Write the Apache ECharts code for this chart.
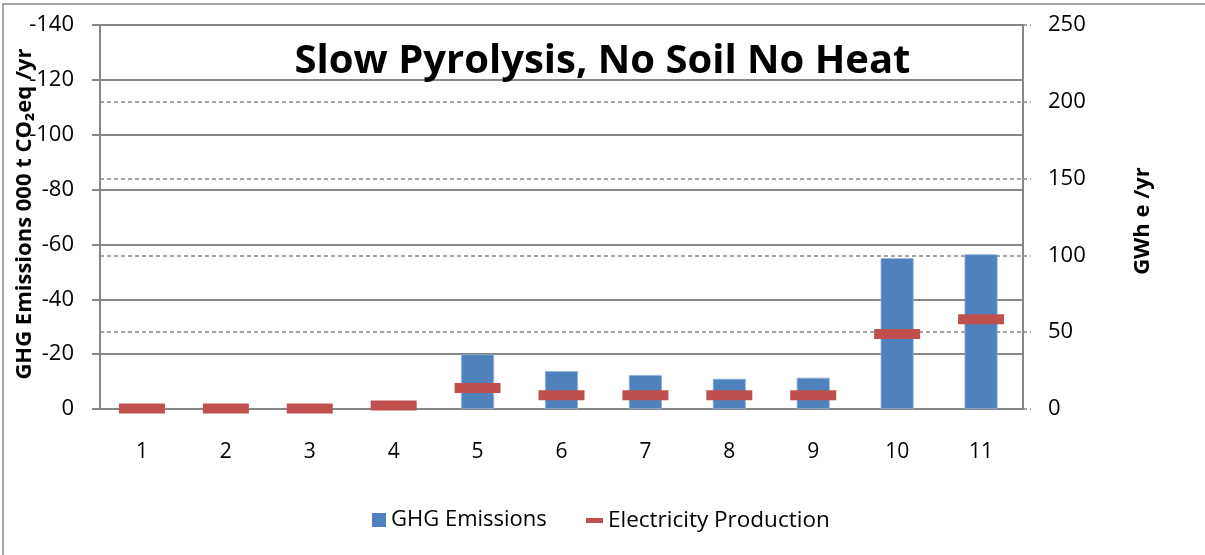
<!DOCTYPE html>
<html>
<head>
<meta charset="utf-8">
<title>Slow Pyrolysis, No Soil No Heat</title>
<script src="https://cdn.jsdelivr.net/npm/echarts@6/dist/echarts.min.js"></script>
<style>
  html, body { margin: 0; padding: 0; background: #ffffff; }
  #chart { width: 1205px; height: 555px; }
</style>
</head>
<body>
<div id="chart"></div>
<script>
// Scenario numbers along the category axis
const categories = ['1', '2', '3', '4', '5', '6', '7', '8', '9', '10', '11'];
// GHG emissions, 000 t CO2eq per year (negative = net removal)
const ghgEmissions = [0, 0, 0, 0, -19.9, -13.8, -12.4, -11.0, -11.4, -55.0, -56.4];
// Electricity production, GWh e per year
const electricityProduction = [0.4, 0.4, 0.4, 2.2, 13.6, 8.9, 8.9, 8.9, 8.9, 48.8, 58.5];
// Axis tick settings
const leftTicks = { min: -140, max: 0, interval: 20 };
const rightTicks = { min: 0, max: 250, interval: 50 };

const FONT = '"Open Sans", "DejaVu Sans", sans-serif';
const GRID_GRAY = '#878787';
const BLUE = '#4F81BD';
const RED = '#C0504D';

const chart = echarts.init(document.getElementById('chart'), null, { renderer: 'canvas' });

chart.setOption({
  backgroundColor: '#ffffff',
  animation: false,
  textStyle: { fontFamily: FONT, color: '#000' },
  title: {
    text: 'Slow Pyrolysis, No Soil No Heat',
    left: 'center',
    top: 37,
    textStyle: { fontFamily: FONT, fontSize: 40, fontWeight: 'bold', color: '#000' }
  },
  legend: [
    {
      data: ['GHG Emissions'],
      left: 367,
      top: 504,
      icon: 'rect',
      itemWidth: 14,
      itemHeight: 14,
      itemStyle: { borderWidth: 0 },
      textStyle: { fontFamily: FONT, fontSize: 22, color: '#000' }
    },
    {
      data: ['Electricity Production'],
      left: 581,
      top: 504,
      icon: 'rect',
      itemWidth: 17,
      itemHeight: 5,
      itemStyle: { borderWidth: 0 },
      textStyle: { fontFamily: FONT, fontSize: 22.5, color: '#000' }
    }
  ],
  grid: { left: 100, right: 182, top: 25, bottom: 146, containLabel: false },
  xAxis: {
    type: 'category',
    data: categories,
    boundaryGap: true,
    axisLine: { lineStyle: { color: GRID_GRAY, width: 2 } },
    axisTick: { inside: true, length: 7, alignWithLabel: false, lineStyle: { color: GRID_GRAY, width: 2 } },
    axisLabel: { fontFamily: FONT, fontSize: 21, color: '#000', margin: 33 },
    splitLine: { show: false }
  },
  yAxis: [
    {
      type: 'value',
      position: 'left',
      min: leftTicks.min,
      max: leftTicks.max,
      interval: leftTicks.interval,
      inverse: true,
      axisLine: { show: true, onZero: false, lineStyle: { color: GRID_GRAY, width: 2 } },
      axisTick: { show: true, length: 8, lineStyle: { color: GRID_GRAY, width: 2 } },
      axisLabel: { fontFamily: FONT, fontSize: 22, color: '#000', margin: 26 },
      splitLine: { show: true, lineStyle: { color: GRID_GRAY, width: 2, type: 'solid' } }
    },
    {
      type: 'value',
      position: 'right',
      min: rightTicks.min,
      max: rightTicks.max,
      interval: rightTicks.interval,
      axisLine: { show: true, onZero: false, lineStyle: { color: GRID_GRAY, width: 2 } },
      axisTick: { show: true, length: 8, lineStyle: { color: GRID_GRAY, width: 1.5, type: [4, 3] } },
      axisLabel: { fontFamily: FONT, fontSize: 22, color: '#000', margin: 25 },
      splitLine: { show: true, lineStyle: { color: GRID_GRAY, width: 1.5, type: [4, 3] } }
    }
  ],
  graphic: [
    // chart frame (top and left edges visible inside the canvas)
    {
      type: 'rect',
      silent: true,
      z: -1,
      shape: { x: 3, y: 4, width: 1230, height: 600 },
      style: { fill: null, stroke: '#888', lineWidth: 1.5 }
    },
    // left axis title
    {
      type: 'text',
      silent: true,
      x: 25,
      y: 214,
      rotation: Math.PI / 2,
      style: {
        text: 'GHG Emissions 000 t CO₂eq /yr',
        fontFamily: FONT,
        fontSize: 22,
        fontWeight: 'bold',
        fill: '#000',
        align: 'center',
        verticalAlign: 'middle'
      },
      z: 10
    },
    // right axis title
    {
      type: 'text',
      silent: true,
      x: 1143,
      y: 221,
      rotation: Math.PI / 2,
      style: {
        text: 'GWh e /yr',
        fontFamily: FONT,
        fontSize: 22,
        fontWeight: 'bold',
        fill: '#000',
        align: 'center',
        verticalAlign: 'middle'
      },
      z: 10
    }
  ],
  series: [
    {
      name: 'GHG Emissions',
      type: 'bar',
      yAxisIndex: 0,
      data: ghgEmissions,
      barWidth: 33,
      itemStyle: { color: BLUE, borderColor: '#8fb0d8', borderWidth: 0.8 },
      z: 2
    },
    {
      name: 'Electricity Production',
      type: 'scatter',
      yAxisIndex: 1,
      data: electricityProduction,
      symbol: 'rect',
      symbolSize: [46, 10],
      itemStyle: { color: RED, opacity: 1 },
      z: 3
    }
  ]
});
</script>
</body>
</html>
